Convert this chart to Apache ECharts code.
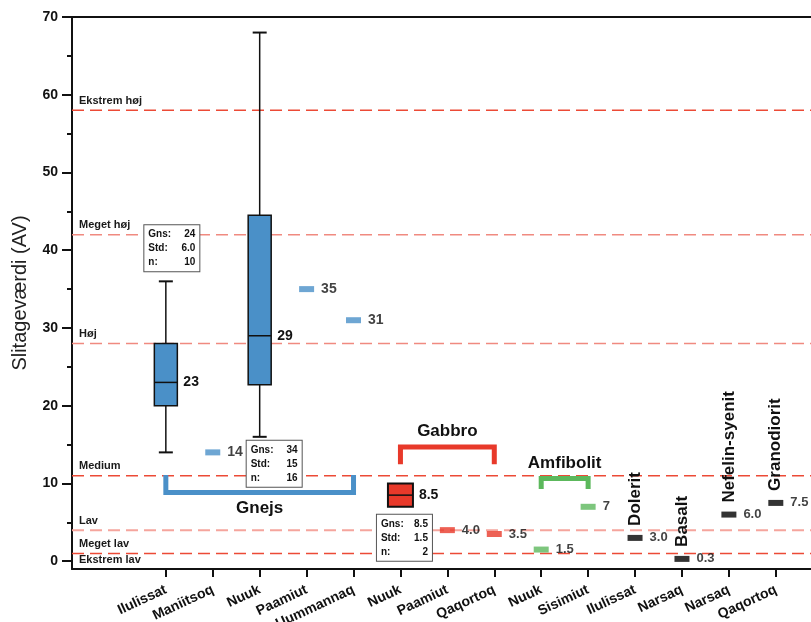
<!DOCTYPE html>
<html>
<head>
<meta charset="utf-8">
<script src="https://cdn.jsdelivr.net/npm/echarts@6/dist/echarts.min.js"></script>
<style>
  html, body { margin: 0; padding: 0; background: #fff; }
  #chart { width: 811px; height: 622px; }
</style>
</head>
<body>
<div id="chart"></div>
<script>
// ---- data ----------------------------------------------------------------
const categories = ['Ilulissat', 'Maniitsoq', 'Nuuk', 'Paamiut', 'Uummannaq',
  'Nuuk', 'Paamiut', 'Qaqortoq', 'Nuuk', 'Sisimiut',
  'Ilulissat', 'Narsaq', 'Narsaq', 'Qaqortoq'];

// box plots (category index, whiskers, quartiles, median)
const boxAt = [0, 2, 5];
const boxMin = [14, 16, null];
const boxQ1 = [20, 22.7, 7];
const boxMedian = [23, 29, 8.5];
const boxQ3 = [28, 44.5, 10];
const boxMax = [36, 68, null];
const boxGroup = ['Gnejs', 'Gnejs', 'Gabbro'];
const boxDigits = [0, 0, 1];

// summary statistics per box
const statMean = ['24', '34', '8.5'];
const statStd = ['6.0', '15', '1.5'];
const statN = ['10', '16', '2'];

// single measurements
const markAt = [1, 3, 4, 6, 7, 8, 9, 10, 11, 12, 13];
const markValue = [14, 35, 31, 4.0, 3.5, 1.5, 7, 3.0, 0.3, 6.0, 7.5];
const markDigits = [0, 0, 0, 1, 1, 1, 0, 1, 1, 1, 1];
const markGroup = ['Gnejs', 'Gnejs', 'Gnejs', 'Gabbro', 'Gabbro', 'Amfibolit', 'Amfibolit',
  'Dolerit', 'Basalt', 'Nefelin-syenit', 'Granodiorit'];

// rock groups spanning several localities
const groupNames = ['Gnejs', 'Gabbro', 'Amfibolit'];
const groupFrom = [0, 5, 8];
const groupTo = [4, 7, 9];

// classification thresholds
const levelNames = ['Ekstrem høj', 'Meget høj', 'Høj', 'Medium', 'Lav', 'Meget lav', 'Ekstrem lav'];
const levelValues = [58, 42, 28, 11, 4, 1, -1];

const yTicks = [0, 10, 20, 30, 40, 50, 60, 70];
const yMinorTicks = [5, 15, 25, 35, 45, 55, 65];

// ---- styling / layout ----------------------------------------------------
const FONT = '"Liberation Sans", Arial, Helvetica, sans-serif';
const INK = '#111';
const groupColor = { Gnejs: '#4a90c8', Gabbro: '#e8392a', Amfibolit: '#5cb85c' };
const colorOf = g => groupColor[g] || '#000';
const boxHalfWidth = { Gnejs: 11.5, Gabbro: 12.5 };
const levelColor = ['#ec4a36', '#f08a80', '#f08a80', '#ec4a36', '#f5a59d', '#ec4a36', null];
const levelWidth = [1.4, 1.4, 1.4, 1.4, 2, 1.4, 0];
// bracket level (base) and arm end (tip), in axis units
const bracketLayout = {
  Gnejs: { base: 8.84, tip: 11.1 },
  Gabbro: { base: 14.69, tip: 12.46 },
  Amfibolit: { base: 10.64, tip: 9.3 }
};
// where each statistics panel sits relative to its box (pixels)
const statsLayout = [
  { side: 'top', dx: 6, gap: 10 },
  { side: 'bottom', dx: 14.5, gap: 4 },
  { side: 'bottom', dx: 4, gap: 8 }
];

const chart = echarts.init(document.getElementById('chart'), null, { renderer: 'canvas' });

// dashed threshold lines across the plot, with their names just above
function renderLevel(params, api) {
  const i = params.dataIndex;
  const cs = params.coordSys;
  const y = api.coord([0, api.value(1)])[1];
  const children = [];
  if (levelColor[i]) {
    children.push({
      type: 'line',
      shape: { x1: cs.x, y1: y, x2: cs.x + cs.width, y2: y },
      style: { stroke: levelColor[i], lineWidth: levelWidth[i], lineDash: [12, 6] }
    });
  }
  children.push({
    type: 'text', x: cs.x + 7, y: y - 4,
    style: {
      text: levelNames[i], fontSize: 11, fontWeight: 'bold', fontFamily: FONT,
      fill: '#1a1a1a', align: 'left', verticalAlign: 'bottom'
    }
  });
  return { type: 'group', children };
}

function renderBox(params, api) {
  const i = params.dataIndex;
  const g = boxGroup[i];
  const hw = boxHalfWidth[g];
  const x = api.value(0);
  const P = v => api.coord([x, v]);
  const cx = P(boxMedian[i])[0];
  const yQ1 = P(boxQ1[i])[1];
  const yQ3 = P(boxQ3[i])[1];
  const yMed = P(boxMedian[i])[1];
  const thin = { stroke: INK, lineWidth: 1.5 };
  const children = [];
  let yTop = yQ3, yBottom = yQ1;
  if (boxMax[i] != null) {
    const yMax = P(boxMax[i])[1];
    yTop = yMax;
    children.push({ type: 'line', shape: { x1: cx, y1: yQ3, x2: cx, y2: yMax }, style: thin });
    children.push({ type: 'line', shape: { x1: cx - 7, y1: yMax, x2: cx + 7, y2: yMax }, style: { stroke: INK, lineWidth: 2 } });
  }
  if (boxMin[i] != null) {
    const yMin = P(boxMin[i])[1];
    yBottom = yMin;
    children.push({ type: 'line', shape: { x1: cx, y1: yQ1, x2: cx, y2: yMin }, style: thin });
    children.push({ type: 'line', shape: { x1: cx - 7, y1: yMin, x2: cx + 7, y2: yMin }, style: { stroke: INK, lineWidth: 2 } });
  }
  children.push({
    type: 'rect',
    shape: { x: cx - hw, y: yQ3, width: 2 * hw, height: yQ1 - yQ3 },
    style: { fill: groupColor[g], stroke: INK, lineWidth: g === 'Gabbro' ? 2 : 1.5 }
  });
  children.push({ type: 'line', shape: { x1: cx - hw, y1: yMed, x2: cx + hw, y2: yMed }, style: thin });
  children.push({
    type: 'text', x: cx + hw + 6, y: yMed,
    style: {
      text: boxMedian[i].toFixed(boxDigits[i]), fontSize: 14, fontWeight: 'bold',
      fontFamily: FONT, fill: INK, align: 'left', verticalAlign: 'middle'
    }
  });
  // statistics panel
  const lay = statsLayout[i];
  const tok = { fontSize: 10, fontWeight: 'bold', fontFamily: FONT, fill: INK, lineHeight: 14 };
  children.push({
    type: 'text',
    x: cx + lay.dx,
    y: lay.side === 'top' ? yTop - lay.gap : yBottom + lay.gap,
    z2: 10,
    style: {
      text: '{k|Gns:}{v|' + statMean[i] + '}\n{k|Std:}{v|' + statStd[i] + '}\n{k|n:}{v|' + statN[i] + '}',
      align: 'center',
      verticalAlign: lay.side === 'top' ? 'bottom' : 'top',
      backgroundColor: '#fff', borderColor: '#555', borderWidth: 1,
      padding: [2, 4, 2, 4],
      fontSize: 10, fontFamily: FONT, fontWeight: 'bold', fill: INK, lineHeight: 14,
      rich: {
        k: Object.assign({ width: 26, align: 'left' }, tok),
        v: Object.assign({ width: 21, align: 'right' }, tok)
      }
    }
  });
  return { type: 'group', children };
}

function renderBracket(params, api) {
  const i = params.dataIndex;
  const name = groupNames[i];
  const lay = bracketLayout[name];
  const a = api.coord([groupFrom[i], lay.base]);
  const b = api.coord([groupTo[i], lay.base]);
  const tipY = api.coord([groupFrom[i], lay.tip])[1];
  const textBelow = lay.tip > lay.base;
  return {
    type: 'group',
    children: [
      {
        type: 'polyline',
        shape: { points: [[a[0], tipY], [a[0], a[1]], [b[0], b[1]], [b[0], tipY]] },
        style: { stroke: groupColor[name], lineWidth: 5, fill: 'none', lineJoin: 'miter' }
      },
      {
        type: 'text',
        x: (a[0] + b[0]) / 2,
        y: textBelow ? a[1] + 7 : a[1] - 7,
        style: {
          text: name, fontSize: 17, fontWeight: 'bold', fontFamily: FONT, fill: INK,
          align: 'center', verticalAlign: textBelow ? 'top' : 'bottom'
        }
      }
    ]
  };
}

// single rocks get their name written upright above the mark
const rockIdx = markGroup.map((g, i) => i).filter(i => groupNames.indexOf(markGroup[i]) < 0);

function renderRockName(params, api) {
  const k = rockIdx[params.dataIndex];
  const p = api.coord([markAt[k], markValue[k]]);
  return {
    type: 'text', x: p[0], y: p[1] - 12, rotation: Math.PI / 2,
    style: {
      text: markGroup[k], fontSize: 17, fontWeight: 'bold', fontFamily: FONT, fill: INK,
      align: 'left', verticalAlign: 'middle'
    }
  };
}

const option = {
  animation: false,
  backgroundColor: '#fff',
  textStyle: { fontFamily: FONT },
  grid: { left: 72, right: 0, top: 17, bottom: 53, containLabel: false, outerBoundsMode: 'none' },
  xAxis: [
    {
      type: 'value', min: -2, max: 13.75, position: 'bottom',
      axisLine: { show: true, onZero: false, lineStyle: { color: INK, width: 2 } },
      axisTick: { show: true, customValues: categories.map((c, i) => i), length: 8, lineStyle: { color: INK, width: 2 } },
      axisLabel: {
        customValues: categories.map((c, i) => i),
        formatter: v => categories[v] || '',
        rotate: 25, margin: 20, fontSize: 14, fontWeight: 'bold', color: INK, fontFamily: FONT
      },
      splitLine: { show: false }
    },
    {
      type: 'value', min: -2, max: 13.75, position: 'top',
      axisLine: { show: true, onZero: false, lineStyle: { color: INK, width: 2 } },
      axisTick: { show: false }, axisLabel: { show: false }, splitLine: { show: false }
    }
  ],
  yAxis: [
    {
      type: 'value', min: -1, max: 70, position: 'left',
      name: 'Slitageværdi (AV)', nameLocation: 'middle', nameGap: 42,
      nameTextStyle: { fontSize: 20, color: '#222', fontFamily: FONT },
      axisLine: { show: true, onZero: false, lineStyle: { color: INK, width: 2 } },
      axisTick: { show: true, customValues: yTicks, length: 10, lineStyle: { color: INK, width: 2 } },
      axisLabel: { customValues: yTicks, margin: 14, fontSize: 14, fontWeight: 'bold', color: INK, fontFamily: FONT },
      splitLine: { show: false }
    },
    {
      type: 'value', min: -1, max: 70, position: 'left',
      axisLine: { show: false, onZero: false },
      axisTick: { show: true, customValues: yMinorTicks, length: 5, lineStyle: { color: INK, width: 2 } },
      axisLabel: { show: false }, splitLine: { show: false }
    }
  ],
  series: [
    {
      type: 'custom', name: 'klasser', z: 1, silent: true,
      renderItem: renderLevel,
      encode: { x: 0, y: 1 },
      data: levelValues.map(v => [0, v])
    },
    {
      type: 'scatter', name: 'enkeltmålinger', z: 3,
      symbol: 'rect', symbolSize: [15, 6],
      data: markAt.map((x, i) => ({
        value: [x, markValue[i]],
        itemStyle: { color: colorOf(markGroup[i]) },
        label: markGroup[i] === 'Gnejs'
          ? { fontSize: 14, fontWeight: 'bold' }
          : { fontSize: 13, fontWeight: 'bold' }
      })),
      label: {
        show: true, position: 'right', distance: 7, color: INK, fontFamily: FONT,
        formatter: p => markValue[p.dataIndex].toFixed(markDigits[p.dataIndex])
      }
    },
    {
      type: 'custom', name: 'bokse', z: 4,
      renderItem: renderBox,
      encode: { x: 0, y: [1, 2] },
      data: boxAt.map((x, i) => [x, boxQ1[i], boxMax[i] != null ? boxMax[i] : boxQ3[i]])
    },
    {
      type: 'custom', name: 'grupper', z: 3,
      renderItem: renderBracket,
      encode: { x: [0, 1], y: 2 },
      data: groupNames.map((n, i) => [groupFrom[i], groupTo[i], bracketLayout[n].base])
    },
    {
      type: 'custom', name: 'bjergarter', z: 3,
      renderItem: renderRockName,
      encode: { x: 0, y: 1 },
      data: rockIdx.map(k => [markAt[k], markValue[k]])
    }
  ]
};

chart.setOption(option);
</script>
</body>
</html>
